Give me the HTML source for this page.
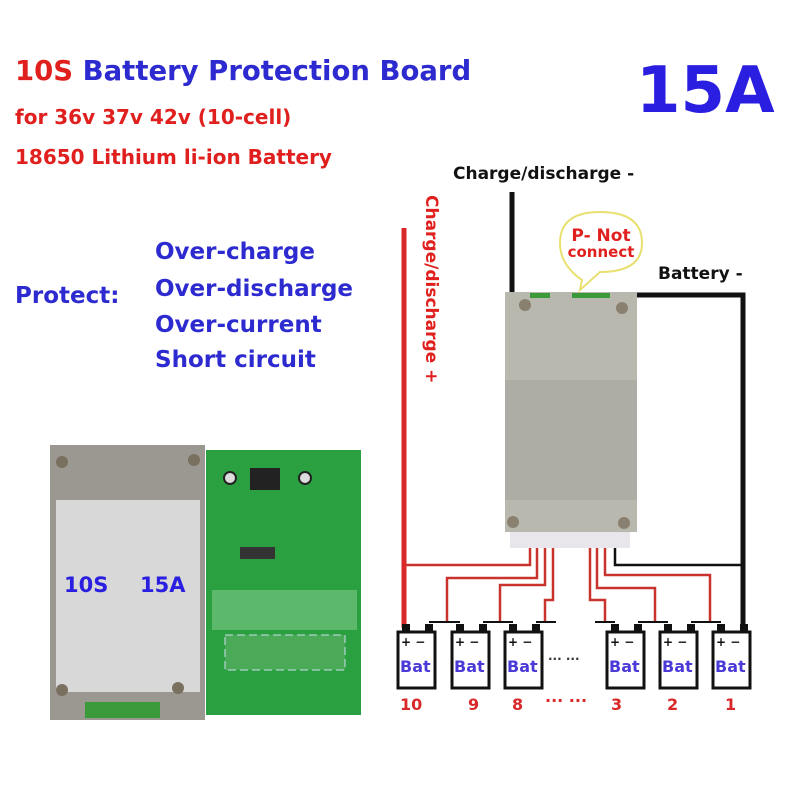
<!DOCTYPE html>
<html><head><meta charset="utf-8"><style>
body{margin:0;background:#fff}
svg{display:block}
text{font-family:"DejaVu Sans","Liberation Sans",sans-serif;font-weight:bold}
</style></head><body>
<svg width="800" height="800" viewBox="0 0 800 800">
<rect width="800" height="800" fill="#fff"/>
<text x="15" y="80" font-size="27.5"><tspan fill="#e0201e">10S</tspan><tspan fill="#2d2bd0"> Battery Protection Board</tspan></text>
<text x="15" y="124" font-size="20" fill="#e0201e">for 36v 37v 42v (10-cell)</text>
<text x="15" y="164" font-size="20" fill="#e0201e">18650 Lithium li-ion Battery</text>
<text x="636" y="112" font-size="64" fill="#2a1ee0">15A</text>
<text x="15" y="303" font-size="23" fill="#2d2bd0">Protect:</text>
<g font-size="23" fill="#2d2bd0">
<text x="155" y="259">Over-charge</text>
<text x="155" y="296">Over-discharge</text>
<text x="155" y="332">Over-current</text>
<text x="155" y="367">Short circuit</text>
</g>
<!-- left metal board -->
<rect x="50" y="445" width="155" height="275" fill="#9a9890"/>
<rect x="56" y="500" width="144" height="192" fill="#d8d8d8"/>
<circle cx="62" cy="462" r="6" fill="#7a7060"/><circle cx="194" cy="460" r="6" fill="#7a7060"/>
<circle cx="62" cy="690" r="6" fill="#7a7060"/><circle cx="178" cy="688" r="6" fill="#7a7060"/>
<rect x="85" y="702" width="75" height="16" fill="#3a9a3a"/>
<text x="64" y="592" font-size="21" fill="#2a1ee0">10S</text>
<text x="140" y="592" font-size="21" fill="#2a1ee0">15A</text>
<!-- PCB -->
<rect x="206" y="450" width="155" height="265" fill="#2aa040"/>
<rect x="250" y="468" width="30" height="22" fill="#222"/>
<rect x="240" y="547" width="35" height="12" fill="#333"/>
<rect x="212" y="590" width="145" height="40" fill="#5cb86a"/>
<rect x="225" y="635" width="120" height="35" fill="#4aaa58" stroke="#cde" stroke-dasharray="8 4"/>
<circle cx="230" cy="478" r="6" fill="#ddd" stroke="#222" stroke-width="2"/>
<circle cx="305" cy="478" r="6" fill="#ddd" stroke="#222" stroke-width="2"/>
<!-- wires -->
<line x1="512" y1="192" x2="512" y2="292" stroke="#111" stroke-width="5"/>
<line x1="404" y1="228" x2="404" y2="628" stroke="#d9282a" stroke-width="5"/>
<polyline points="628,295 743,295 743,628" fill="none" stroke="#111" stroke-width="5"/>
<g fill="none" stroke="#c8332e" stroke-width="2.5">
<polyline points="530,548 530,565 406,565"/>
<polyline points="537,548 537,578 447,578 447,622"/>
<polyline points="545,548 545,585 500,585 500,622"/>
<polyline points="553,548 553,600 545,600 545,622"/>
<polyline points="590,548 590,600 605,600 605,622"/>
<polyline points="597,548 597,588 655,588 655,622"/>
<polyline points="605,548 605,575 710,575 710,622"/>
</g>
<polyline points="615,548 615,565 743,565" fill="none" stroke="#111" stroke-width="2.5"/>
<!-- right board -->
<rect x="505" y="292" width="132" height="240" fill="#b8b8ae"/>
<rect x="505" y="380" width="132" height="120" fill="#adada5"/>
<rect x="510" y="532" width="120" height="16" fill="#e8e6ea"/>
<circle cx="525" cy="305" r="6" fill="#8a8070"/><circle cx="622" cy="308" r="6" fill="#8a8070"/>
<circle cx="513" cy="522" r="6" fill="#8a8070"/><circle cx="624" cy="523" r="6" fill="#8a8070"/>
<rect x="530" y="293" width="20" height="5" fill="#3a9a3a"/><rect x="572" y="293" width="38" height="5" fill="#3a9a3a"/>
<!-- bubble -->
<path d="M582,280 Q560,265 560,243 Q560,212 600,212 Q642,212 642,243 Q642,272 600,272 L580,290 Z" fill="#fff" stroke="#e8e070" stroke-width="2"/>
<text x="601" y="241" font-size="17" fill="#e0201e" text-anchor="middle">P- Not</text>
<text x="601" y="257" font-size="15" fill="#e0201e" text-anchor="middle">connect</text>
<text x="453" y="179" font-size="17" fill="#111">Charge/discharge -</text>
<text x="658" y="279" font-size="17" fill="#111">Battery -</text>
<text transform="translate(426,195) rotate(90)" font-size="17" fill="#e0201e">Charge/discharge +</text>
<!-- batteries -->
<g stroke="#111" stroke-width="3" fill="#fff">
<rect x="398" y="632" width="37" height="56"/><rect x="452" y="632" width="37" height="56"/>
<rect x="505" y="632" width="37" height="56"/><rect x="607" y="632" width="37" height="56"/>
<rect x="660" y="632" width="37" height="56"/><rect x="713" y="632" width="37" height="56"/>
</g>
<g fill="#111">
<rect x="402" y="624" width="8" height="8"/><rect x="425" y="624" width="8" height="8"/>
<rect x="456" y="624" width="8" height="8"/><rect x="479" y="624" width="8" height="8"/>
<rect x="509" y="624" width="8" height="8"/><rect x="532" y="624" width="8" height="8"/>
<rect x="611" y="624" width="8" height="8"/><rect x="634" y="624" width="8" height="8"/>
<rect x="664" y="624" width="8" height="8"/><rect x="687" y="624" width="8" height="8"/>
<rect x="717" y="624" width="8" height="8"/><rect x="740" y="624" width="8" height="8"/>
</g>
<g stroke="#111" stroke-width="2" fill="none">
<line x1="429" y1="622" x2="460" y2="622"/><line x1="483" y1="622" x2="513" y2="622"/>
<line x1="536" y1="622" x2="556" y2="622"/><line x1="595" y1="622" x2="615" y2="622"/>
<line x1="638" y1="622" x2="668" y2="622"/><line x1="691" y1="622" x2="721" y2="622"/>
</g>
<g font-size="12" fill="#111">
<text x="401" y="646">+ −</text><text x="455" y="646">+ −</text><text x="508" y="646">+ −</text>
<text x="610" y="646">+ −</text><text x="663" y="646">+ −</text><text x="716" y="646">+ −</text>
</g>
<g font-size="16" fill="#4a3ad8" style="font-weight:normal">
<text x="400" y="672">Bat</text><text x="454" y="672">Bat</text><text x="507" y="672">Bat</text>
<text x="609" y="672">Bat</text><text x="662" y="672">Bat</text><text x="715" y="672">Bat</text>
</g>
<text x="548" y="663" font-size="12" fill="#333">··· ···</text>
<g font-size="16" fill="#d9282a">
<text x="400" y="710">10</text><text x="468" y="710">9</text><text x="512" y="710">8</text>
<text x="545" y="706">··· ···</text><text x="611" y="710">3</text><text x="667" y="710">2</text><text x="725" y="710">1</text>
</g>
</svg>
</body></html>
